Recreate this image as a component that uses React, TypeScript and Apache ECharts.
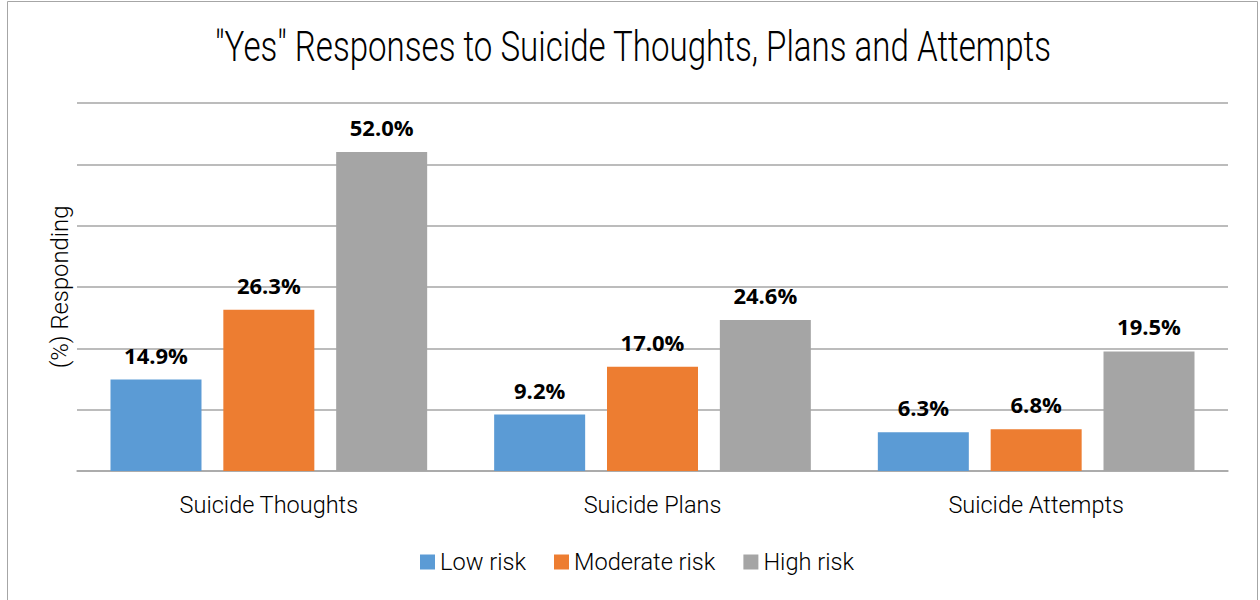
import React, { useEffect, useRef } from "react";
import * as echarts from "echarts";

const categories = ["Suicide Thoughts", "Suicide Plans", "Suicide Attempts"];
const lowRisk = [14.9, 9.2, 6.3];
const moderateRisk = [26.3, 17.0, 6.8];
const highRisk = [52.0, 24.6, 19.5];
const seriesNames = ["Low risk", "Moderate risk", "High risk"];
const colors = ["#5B9BD5", "#ED7D31", "#A5A5A5"];
const titleText = '"Yes" Responses to Suicide Thoughts, Plans and Attempts';
const yAxisName = "(%) Responding";

export default function App() {
  const ref = useRef<HTMLDivElement>(null);
  useEffect(() => {
    const chart = echarts.init(ref.current!, null, { renderer: "svg" });
    const label = {
      show: true,
      position: "top",
      distance: 14,
      formatter: (p: any) => p.value.toFixed(1) + "%",
      fontFamily: "Open Sans",
      fontWeight: "bold",
      fontSize: 22,
      color: "#000",
    };
    const data = [lowRisk, moderateRisk, highRisk];
    chart.setOption({
      animation: false,
      backgroundColor: "#fff",
      color: colors,
      graphic: [
        {
          type: "rect",
          shape: { x: 7.5, y: 1.5, width: 1250, height: 610 },
          style: { fill: "none", stroke: "#a6a6a6", lineWidth: 1 },
          silent: true,
        },
        {
          type: "text",
          x: 633,
          y: 47,
          scaleX: 0.788,
          style: {
            text: titleText,
            fontFamily: "Roboto",
            fontWeight: 300,
            fontSize: 42,
            fill: "#000",
            align: "center",
            verticalAlign: "middle",
          },
        },
      ],
      grid: { left: 77, right: 32, top: 103, bottom: 129 },
      legend: {
        bottom: 21,
        left: 415,
        itemWidth: 15,
        itemHeight: 15,
        itemGap: 28,
        icon: "rect",
        textStyle: { fontFamily: "Roboto", fontWeight: 300, fontSize: 23.6, color: "#000" },
        data: seriesNames,
      },
      xAxis: {
        type: "category",
        data: categories,
        axisLine: { lineStyle: { color: "#a6a6a6", width: 1.5 } },
        axisTick: { show: false },
        axisLabel: { fontFamily: "Roboto", fontWeight: 300, fontSize: 23.5, color: "#000", margin: 22 },
      },
      yAxis: {
        type: "value",
        min: 0,
        max: 60,
        interval: 10,
        name: yAxisName,
        nameLocation: "middle",
        nameGap: 5,
        nameTextStyle: { fontFamily: "Roboto", fontWeight: 300, fontSize: 23.8, color: "#000" },
        axisLabel: { show: false },
        axisLine: { show: false },
        axisTick: { show: false },
        splitLine: { lineStyle: { color: "#a6a6a6", width: 1.5 } },
      },
      series: seriesNames.map((name, i) => ({
        name,
        type: "bar",
        data: data[i],
        barWidth: 91,
        barGap: "24%",
        label,
      })),
    });
    return () => chart.dispose();
  }, []);
  return (
    <div
      ref={ref}
      style={{ position: "fixed", left: 0, top: 0, width: 1260, height: 600 }}
    />
  );
}
